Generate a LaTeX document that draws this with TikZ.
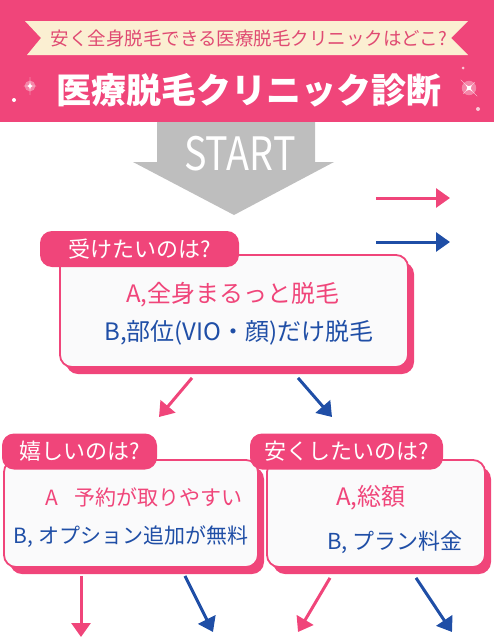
\documentclass[tikz,border=0pt]{standalone}
\usepackage{fontspec}
\setmainfont{Noto Sans CJK JP}
\usepackage{xcolor}
\usetikzlibrary{positioning,arrows.meta,calc,shadows}
\definecolor{rosa}{HTML}{F0457A}
\definecolor{ribbonink}{HTML}{E04A72}
\definecolor{ink}{HTML}{1F4EA6}
\definecolor{cream}{HTML}{FBEFD2}
\definecolor{ash}{HTML}{BEBEBE}
\definecolor{paper}{HTML}{FAFAFB}
\newcommand{\fs}[1]{\fontsize{#1}{#1}\selectfont}
\newcommand{\twinkle}[3]{%
  \fill[white, opacity=0.35] (#1,#2) circle (#3*0.6);
  \fill[white] (#1,#2-#3) .. controls (#1,#2) .. (#1+#3*0.7,#2)
               .. controls (#1,#2) .. (#1,#2+#3)
               .. controls (#1,#2) .. (#1-#3*0.7,#2)
               .. controls (#1,#2) .. cycle;}
\tikzset{
  qtab/.style  = {rectangle, rounded corners=12pt, fill=rosa, text=white, font=\fs{22},
                  inner sep=0pt, minimum height=36pt},
  qbox/.style  = {rectangle, rounded corners=12pt, draw=rosa, line width=1.8pt, fill=paper,
                  inner sep=0pt,
                  drop shadow={shadow xshift=6pt, shadow yshift=-7pt, fill=rosa, opacity=1}},
  ansA/.style  = {text=rosa, font=\fs{#1}, inner sep=0pt},
  ansB/.style  = {text=ink, font=\fs{#1}, inner sep=0pt},
  pick/.style  = {line width=3pt, draw=#1, -{Triangle[length=14pt,width=19pt,fill=#1]}},
}

\begin{document}
\begin{tikzpicture}[x=1pt, y=-1pt]
  \useasboundingbox (0,0) rectangle (494,640);

  %% ---- header band --------------------------------------------------------
  \fill[rosa] (0,0) rectangle (494,122);
  \fill[cream] (25,21) -- (468,21) -- (451,38) -- (468,55) -- (27,55) -- (41,38) -- cycle;
  \node[text=ribbonink, font=\fs{18.5}] (lead) at (249,38)
    {安く全身脱毛できる医療脱毛クリニックはどこ?};
  \node[text=white, font=\fs{35}\bfseries] (title) at (249,90) {医療脱毛クリニック診断};
  \twinkle{30}{86}{9}
  \fill[white] (14,100) circle (2);
  \begin{scope}[rotate around={45:(469,88)}]
    \twinkle{469}{88}{12}
  \end{scope}
  \fill[white, opacity=0.7] (463,68) circle (1.5);
  \fill[white, opacity=0.7] (478,109) circle (2);

  %% ---- start arrow --------------------------------------------------------
  \fill[ash] (157,122) -- (315,122) -- (315,162) -- (334,162) -- (234,215)
             -- (133,162) -- (157,162) -- cycle;
  \node[text=white, font=\fs{46}] (start) at (240,154) {\scalebox{0.82}[1]{START}};

  % key arrows
  \coordinate (keyA0) at (376,198);  \coordinate (keyA1) at (450,198);
  \coordinate (keyB0) at (376,242);  \coordinate (keyB1) at (450,242);
  \draw[pick=rosa] (keyA0) -- (keyA1);
  \draw[pick=ink]  (keyB0) -- (keyB1);

  %% ---- first question -----------------------------------------------------
  \node[qbox, minimum width=348pt, minimum height=112pt] (q1) at (234,311) {};
  \node[qtab, minimum width=199pt] (q1tab) at (139.5,249) {受けたいのは?};
  \node[ansA=24] (q1a) at (233,295) {A,全身まるっと脱毛};
  \node[ansB=24] (q1b) at (239,333) {B,部位(VIO・顔)だけ脱毛};

  \coordinate (toL) at (159,417);
  \coordinate (toR) at (332,417);
  \draw[pick=rosa] ([shift={(-42,10)}]q1.south) -- (toL);
  \draw[pick=ink]  ([shift={(64,10)}]q1.south)  -- (toR);

  %% ---- second row ---------------------------------------------------------
  \node[qbox, minimum width=254pt, minimum height=107pt] (q2) at (131,513.5) {};
  \node[qtab, minimum width=155pt] (q2tab) at (79.5,451.5) {嬉しいのは?};
  \node[ansA=21] (q2a) at (144,497) {A\hspace{0.8em}予約が取りやすい};
  \node[ansB=21] (q2b) at (131,537) {B, オプション追加が無料};

  \node[qbox, minimum width=218pt, minimum height=107pt] (q3) at (376,513.5) {};
  \node[qtab, minimum width=193pt] (q3tab) at (346.5,451.5) {安くしたいのは?};
  \node[ansA=24] (q3a) at (371,498) {A,総額};
  \node[ansB=22] (q3b) at (395,542) {B, プラン料金};

  \coordinate (endLL) at (81,637);
  \coordinate (endLR) at (213,632);
  \coordinate (endRL) at (298,632);
  \coordinate (endRR) at (452,632);
  \draw[pick=rosa] ([shift={(-50,8)}]q2.south) -- (endLL);
  \draw[pick=ink]  ([shift={(54,8)}]q2.south)  -- (endLR);
  \draw[pick=rosa] ([shift={(-46,10)}]q3.south) -- (endRL);
  \draw[pick=ink]  ([shift={(40,10)}]q3.south)  -- (endRR);
\end{tikzpicture}
\end{document}
